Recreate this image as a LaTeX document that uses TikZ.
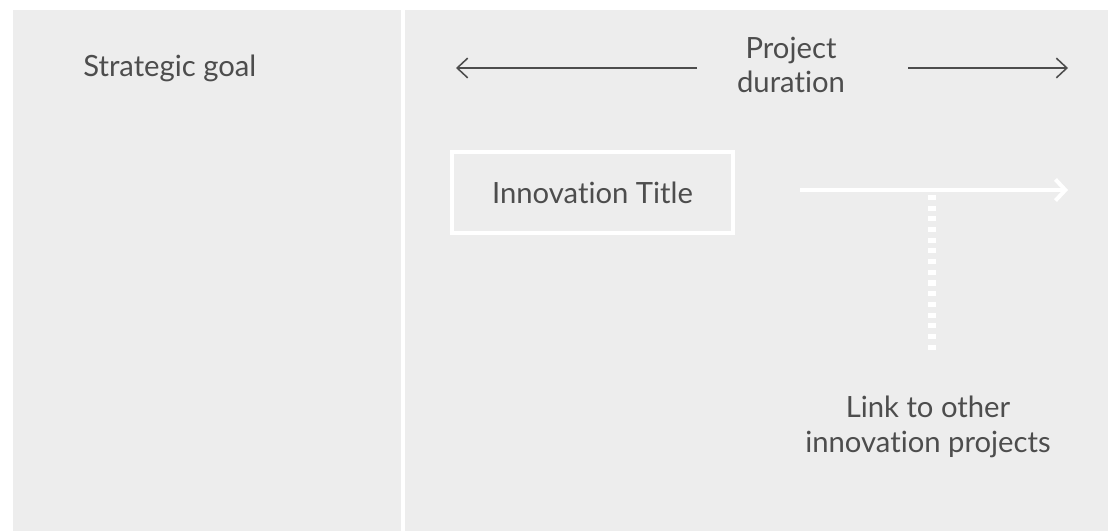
\documentclass[tikz,border=0pt]{standalone}
\usepackage{fontspec}
\setmainfont[Ligatures=NoCommon]{Lato}
\usepackage{tikz}
\usetikzlibrary{arrows.meta, positioning}
\definecolor{panelgray}{HTML}{EDEDED}
\definecolor{inkgray}{HTML}{4D4D4D}

\begin{document}
\begin{tikzpicture}[
  x=0.025cm, y=-0.025cm,
  panel/.style={fill=panelgray, draw=none},
  label/.style={
    text=inkgray, align=center, inner sep=0pt,
    font=\fontsize{20.8}{24.5}\selectfont,
  },
  spanline/.style={
    draw=inkgray, line width=1.1pt,
    -{Straight Barb[length=7.5pt, width=14pt]},
  },
  whiteline/.style={
    draw=white, line width=2.8pt,
    -{Straight Barb[length=7pt, width=15pt]},
  },
]
  % Canvas
  \fill[white] (0,0) rectangle (1108,531);
  \useasboundingbox (0,0) rectangle (1108,531);

  % Panels
  \fill[panel] (13,10) rectangle (401,531);
  \fill[panel] (405,10) rectangle (1108,531);

  % Labels
  \node[label, anchor=west] (goal) at (83,68) {Strategic goal};
  \node[label] (duration) at (791,65) {Project\\duration};
  \node[label] (link) at (928,427) {Link to other\\innovation projects};

  % Title box
  \node[label, draw=white, line width=2.8pt,
        minimum width=7.03cm, minimum height=2.03cm] (title) at (592.5,192.5) {Innovation Title};

  % Duration arrows
  \coordinate (durL) at (697,68);
  \coordinate (durLend) at (456,68);
  \coordinate (durR) at (908,68);
  \coordinate (durRend) at (1068,68);
  \draw[spanline] (durL) -- (durLend);
  \draw[spanline] (durR) -- (durRend);

  % Link arrow
  \coordinate (linkA) at (800,190);
  \coordinate (linkB) at (1068,190);
  \coordinate (linkTop) at (932,195);
  \coordinate (linkEnd) at (932,350);
  \draw[whiteline] (linkA) -- (linkB);
  \draw[white, line width=5.7pt, dash pattern=on 3.6pt off 4pt] (linkTop) -- (linkEnd);
\end{tikzpicture}
\end{document}
